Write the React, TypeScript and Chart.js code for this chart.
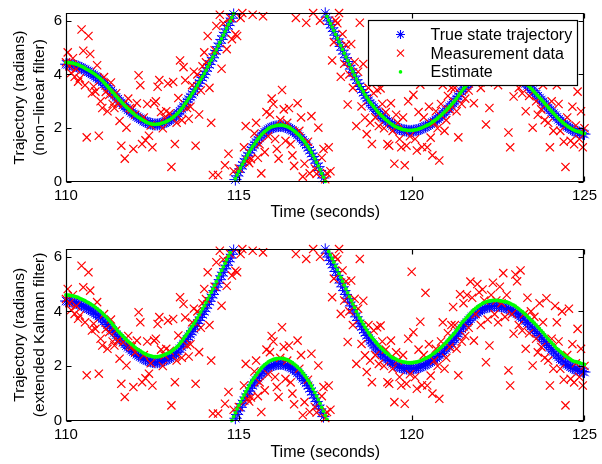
import React, { useEffect, useRef } from 'react';
import { Chart, registerables } from 'chart.js';

Chart.register(...registerables);

// ---- sampling grid & axis ticks ----
const T_START = 110;
const T_STEP = 0.05;
const X_MIN = 110;
const X_MAX = 125;
const Y_MIN = 0;
const Y_MAX = 6.2832;
const X_TICKS = [110, 115, 120, 125];
const Y_TICKS = [0, 2, 4, 6];

const SERIES_LABELS = ['True state trajectory', 'Measurement data', 'Estimate'];
const X_TITLE = 'Time (seconds)';
const Y_TITLE_TOP = ['Trajectory (radians)', '(non\u2212linear filter)'];
const Y_TITLE_BOTTOM = ['Trajectory (radians)', '(extended Kalman filter)'];

// ---- true state (radians, wrapped to [0, 2π)) every 0.05 s from 110 s ----
const trueState = [
  4.38, 4.37, 4.37, 4.36, 4.35,
  4.33, 4.31, 4.29, 4.26, 4.23,
  4.20, 4.17, 4.13, 4.10, 4.06,
  4.02, 3.98, 3.93, 3.88, 3.83,
  3.78, 3.72, 3.65, 3.59, 3.52,
  3.45, 3.38, 3.30, 3.23, 3.15,
  3.08, 3.01, 2.94, 2.88, 2.81,
  2.75, 2.69, 2.64, 2.58, 2.53,
  2.48, 2.43, 2.39, 2.35, 2.31,
  2.27, 2.24, 2.21, 2.19, 2.17,
  2.15, 2.14, 2.14, 2.14, 2.15,
  2.17, 2.19, 2.21, 2.24, 2.27,
  2.30, 2.34, 2.39, 2.44, 2.49,
  2.55, 2.63, 2.71, 2.80, 2.89,
  2.98, 3.07, 3.16, 3.26, 3.35,
  3.45, 3.56, 3.67, 3.78, 3.89,
  4.00, 4.12, 4.25, 4.37, 4.50,
  4.62, 4.76, 4.89, 5.03, 5.16,
  5.30, 5.43, 5.56, 5.69, 5.82,
  5.95, 6.09, 6.23, 0.09, 0.23,
  0.36, 0.49, 0.62, 0.74, 0.86,
  0.97, 1.08, 1.19, 1.29, 1.38,
  1.47, 1.56, 1.64, 1.72, 1.79,
  1.85, 1.90, 1.95, 1.99, 2.02,
  2.04, 2.06, 2.07, 2.08, 2.08,
  2.08, 2.07, 2.05, 2.03, 2.00,
  1.96, 1.92, 1.87, 1.82, 1.76,
  1.70, 1.63, 1.55, 1.47, 1.38,
  1.28, 1.18, 1.07, 0.95, 0.83,
  0.70, 0.57, 0.43, 0.29, 0.15,
  6.27, 6.13, 5.99, 5.86, 5.73,
  5.60, 5.46, 5.32, 5.18, 5.04,
  4.90, 4.76, 4.62, 4.48, 4.34,
  4.20, 4.07, 3.94, 3.80, 3.67,
  3.55, 3.44, 3.33, 3.22, 3.12,
  3.02, 2.93, 2.85, 2.77, 2.69,
  2.62, 2.55, 2.48, 2.42, 2.36,
  2.30, 2.25, 2.20, 2.15, 2.10,
  2.06, 2.03, 2.00, 1.97, 1.95,
  1.93, 1.92, 1.91, 1.90, 1.90,
  1.90, 1.91, 1.92, 1.93, 1.95,
  1.97, 2.00, 2.03, 2.06, 2.09,
  2.12, 2.16, 2.21, 2.25, 2.30,
  2.35, 2.41, 2.46, 2.52, 2.59,
  2.65, 2.72, 2.79, 2.86, 2.93,
  3.00, 3.09, 3.18, 3.27, 3.36,
  3.45, 3.52, 3.59, 3.66, 3.73,
  3.80, 3.86, 3.91, 3.96, 4.01,
  4.05, 4.09, 4.12, 4.15, 4.17,
  4.18, 4.19, 4.20, 4.20, 4.20,
  4.20, 4.19, 4.18, 4.17, 4.15,
  4.13, 4.10, 4.07, 4.04, 4.01,
  3.97, 3.92, 3.87, 3.82, 3.77,
  3.72, 3.66, 3.59, 3.53, 3.46,
  3.40, 3.33, 3.26, 3.19, 3.12,
  3.05, 2.98, 2.90, 2.83, 2.75,
  2.68, 2.61, 2.54, 2.47, 2.40,
  2.33, 2.27, 2.22, 2.16, 2.11,
  2.06, 2.02, 1.98, 1.94, 1.91,
  1.88, 1.86, 1.84, 1.82, 1.80,
  1.78,
];

// ---- noisy measurements (same in both panels) ----
const measurements = [
  4.45, 4.82, 4.30, 4.05, 4.60,
  3.91, 4.20, 3.73, 3.85, 5.67,
  4.88, 3.60, 1.66, 5.43, 4.76,
  3.30, 3.55, 3.36, 4.34, 1.72,
  3.00, 2.75, 3.90, 3.35, 2.63,
  3.24, 3.70, 2.90, 2.75, 3.30,
  2.93, 2.27, 1.35, 2.87, 0.87,
  2.02, 3.10, 2.75, 2.70, 1.23,
  2.50, 2.93, 3.97, 3.60, 1.41,
  2.40, 1.55, 2.90, 1.72, 2.10,
  1.29, 2.93, 3.00, 3.54, 3.79,
  2.60, 2.00, 2.39, 2.63, 3.66,
  2.55, 0.56, 3.72, 1.41, 2.20,
  3.12, 4.52, 2.30, 4.27, 3.78,
  2.75, 2.35, 2.80, 3.60, 4.10,
  1.35, 4.00, 2.51, 3.40, 4.30,
  4.82, 4.45, 5.43, 3.50, 2.20,
  0.26, 4.90, 5.80, 0.26, 6.22,
  4.21, 5.90, 0.62, 4.94, 1.05,
  6.10, 5.31, 0.40, 5.49, 5.43,
  0.50, 6.10, 6.28, 1.29, 2.08,
  0.80, 0.70, 0.85, 6.22, 1.80,
  2.20, 0.90, 1.40, 0.32, 6.16,
  1.11, 2.60, 1.70, 2.51, 3.10,
  2.90, 1.60, 1.23, 0.87, 2.30,
  3.42, 2.70, 1.53, 2.20, 2.75,
  1.40, 0.99, 0.60, 6.10, 2.93,
  1.90, 2.40, 0.20, 0.68, 5.92,
  1.50, 0.32, 2.45, 6.28, 0.50,
  0.30, 2.02, 6.00, 0.90, 1.23,
  0.10, 0.32, 1.29, 0.40, 4.52,
  5.20, 6.00, 5.90, 6.28, 3.91,
  5.50, 4.40, 5.10, 2.88, 4.00,
  5.13, 3.50, 4.46, 2.08, 4.10,
  5.92, 2.81, 4.39, 2.39, 1.78,
  3.50, 2.20, 1.41, 3.30, 2.40,
  3.42, 2.08, 3.48, 2.90, 2.00,
  2.60, 1.41, 1.35, 2.93, 1.90,
  0.68, 2.50, 2.20, 1.60, 1.29,
  2.40, 0.62, 1.35, 3.00, 1.70,
  5.45, 3.24, 1.60, 1.17, 2.60,
  3.62, 1.30, 2.40, 4.68, 1.29,
  2.80, 1.65, 0.99, 2.20, 2.63,
  2.00, 0.80, 2.90, 3.60, 1.90,
  2.30, 3.20, 2.70, 3.50, 4.16,
  3.50, 2.63, 1.66, 4.63, 2.90,
  4.30, 3.10, 4.60, 3.40, 5.09,
  4.50, 2.93, 3.90, 5.00, 4.70,
  3.50, 4.80, 4.40, 2.14, 3.70,
  2.75, 4.60, 5.05, 3.90, 4.40,
  3.60, 4.90, 4.30, 5.40, 3.80,
  4.60, 1.84, 1.29, 3.90, 3.18,
  5.35, 5.10, 3.50, 5.50, 3.30,
  3.90, 2.63, 4.50, 3.20, 4.00,
  2.02, 3.80, 3.00, 2.50, 4.30,
  2.70, 3.60, 2.30, 4.48, 2.20,
  1.29, 3.00, 1.90, 4.20, 3.60,
  2.90, 1.90, 4.00, 1.50, 0.56,
  2.40, 4.10, 1.53, 2.80, 1.40,
  2.10, 3.36, 1.60, 2.63, 1.29,
  2.00,
];

// ---- estimate, non-linear filter (top panel) ----
const estimateNonLinear = [
  4.45, 4.44, 4.44, 4.43, 4.42,
  4.40, 4.38, 4.36, 4.33, 4.30,
  4.27, 4.23, 4.19, 4.16, 4.12,
  4.08, 4.04, 3.99, 3.94, 3.89,
  3.83, 3.77, 3.70, 3.63, 3.56,
  3.49, 3.42, 3.34, 3.27, 3.19,
  3.12, 3.05, 2.98, 2.91, 2.84,
  2.78, 2.72, 2.66, 2.60, 2.55,
  2.49, 2.44, 2.40, 2.36, 2.32,
  2.28, 2.24, 2.21, 2.19, 2.17,
  2.15, 2.14, 2.14, 2.15, 2.16,
  2.18, 2.20, 2.22, 2.25, 2.28,
  2.32, 2.36, 2.41, 2.46, 2.52,
  2.58, 2.66, 2.74, 2.83, 2.92,
  3.01, 3.10, 3.19, 3.29, 3.38,
  3.48, 3.59, 3.70, 3.81, 3.92,
  4.03, 4.15, 4.28, 4.40, 4.53,
  4.65, 4.79, 4.92, 5.06, 5.19,
  5.33, 5.46, 5.59, 5.72, 5.85,
  5.98, 6.12, 6.26, 0.12, 0.26,
  0.39, 0.52, 0.65, 0.77, 0.89,
  1.00, 1.11, 1.22, 1.32, 1.41,
  1.50, 1.59, 1.67, 1.75, 1.82,
  1.88, 1.93, 1.98, 2.02, 2.05,
  2.07, 2.09, 2.10, 2.11, 2.11,
  2.11, 2.10, 2.08, 2.06, 2.03,
  1.99, 1.95, 1.90, 1.85, 1.79,
  1.73, 1.66, 1.58, 1.50, 1.41,
  1.31, 1.21, 1.10, 0.98, 0.86,
  0.73, 0.60, 0.46, 0.32, 0.18,
  0.02, 6.16, 6.02, 5.89, 5.76,
  5.63, 5.49, 5.35, 5.21, 5.07,
  4.93, 4.79, 4.65, 4.51, 4.37,
  4.23, 4.10, 3.97, 3.83, 3.70,
  3.58, 3.47, 3.36, 3.25, 3.15,
  3.05, 2.96, 2.88, 2.80, 2.72,
  2.64, 2.57, 2.50, 2.44, 2.38,
  2.32, 2.27, 2.22, 2.17, 2.12,
  2.08, 2.05, 2.02, 1.99, 1.97,
  1.95, 1.94, 1.93, 1.92, 1.92,
  1.92, 1.93, 1.94, 1.95, 1.97,
  1.99, 2.02, 2.05, 2.08, 2.11,
  2.14, 2.18, 2.23, 2.27, 2.32,
  2.37, 2.43, 2.48, 2.54, 2.61,
  2.67, 2.74, 2.81, 2.88, 2.95,
  3.02, 3.11, 3.20, 3.29, 3.38,
  3.47, 3.54, 3.61, 3.68, 3.75,
  3.82, 3.88, 3.93, 3.98, 4.03,
  4.07, 4.11, 4.14, 4.17, 4.19,
  4.20, 4.21, 4.22, 4.22, 4.22,
  4.22, 4.21, 4.20, 4.19, 4.17,
  4.15, 4.12, 4.09, 4.06, 4.03,
  3.99, 3.94, 3.89, 3.84, 3.79,
  3.74, 3.68, 3.61, 3.55, 3.48,
  3.42, 3.35, 3.28, 3.21, 3.14,
  3.07, 3.00, 2.92, 2.85, 2.77,
  2.70, 2.63, 2.56, 2.49, 2.42,
  2.35, 2.29, 2.24, 2.18, 2.13,
  2.08, 2.04, 2.00, 1.96, 1.93,
  1.90, 1.88, 1.86, 1.84, 1.82,
  1.80,
];

// ---- estimate, extended Kalman filter (bottom panel) ----
const estimateEKF = [
  4.60, 4.59, 4.59, 4.58, 4.57,
  4.55, 4.53, 4.51, 4.48, 4.45,
  4.42, 4.39, 4.35, 4.32, 4.28,
  4.24, 4.20, 4.15, 4.10, 4.05,
  4.00, 3.94, 3.87, 3.81, 3.74,
  3.67, 3.60, 3.52, 3.45, 3.37,
  3.29, 3.22, 3.15, 3.09, 3.02,
  2.96, 2.90, 2.85, 2.79, 2.74,
  2.68, 2.63, 2.59, 2.55, 2.51,
  2.47, 2.44, 2.41, 2.39, 2.37,
  2.35, 2.34, 2.34, 2.34, 2.35,
  2.37, 2.39, 2.41, 2.44, 2.47,
  2.50, 2.54, 2.59, 2.64, 2.69,
  2.75, 2.83, 2.91, 3.00, 3.09,
  3.18, 3.27, 3.36, 3.46, 3.55,
  3.65, 3.76, 3.87, 3.98, 4.09,
  4.20, 4.32, 4.45, 4.57, 4.70,
  4.82, 4.96, 5.09, 5.23, 5.36,
  5.50, 5.63, 5.76, 5.89, 6.02,
  6.15, 0.01, 0.15, 0.29, 0.43,
  0.56, 0.69, 0.82, 0.94, 1.06,
  1.17, 1.28, 1.39, 1.49, 1.58,
  1.67, 1.76, 1.84, 1.92, 1.99,
  2.05, 2.10, 2.15, 2.19, 2.22,
  2.24, 2.26, 2.27, 2.28, 2.28,
  2.28, 2.27, 2.25, 2.23, 2.20,
  2.16, 2.12, 2.07, 2.02, 1.96,
  1.90, 1.83, 1.75, 1.67, 1.58,
  1.48, 1.38, 1.27, 1.15, 1.03,
  0.90, 0.77, 0.63, 0.49, 0.35,
  0.19, 0.05, 6.19, 6.06, 5.93,
  5.80, 5.66, 5.52, 5.38, 5.24,
  5.10, 4.96, 4.82, 4.68, 4.54,
  4.40, 4.27, 4.14, 4.00, 3.87,
  3.75, 3.64, 3.53, 3.42, 3.32,
  3.22, 3.13, 3.05, 2.97, 2.89,
  2.82, 2.75, 2.68, 2.62, 2.56,
  2.50, 2.45, 2.40, 2.35, 2.30,
  2.28, 2.25, 2.22, 2.19, 2.17,
  2.15, 2.14, 2.13, 2.12, 2.12,
  2.12, 2.13, 2.14, 2.15, 2.17,
  2.19, 2.22, 2.25, 2.28, 2.31,
  2.34, 2.38, 2.43, 2.47, 2.52,
  2.57, 2.63, 2.68, 2.74, 2.81,
  2.87, 2.94, 3.01, 3.08, 3.15,
  3.22, 3.31, 3.40, 3.49, 3.58,
  3.65, 3.72, 3.79, 3.86, 3.93,
  4.00, 4.06, 4.11, 4.16, 4.21,
  4.25, 4.29, 4.32, 4.35, 4.37,
  4.38, 4.39, 4.40, 4.40, 4.40,
  4.40, 4.39, 4.38, 4.37, 4.35,
  4.35, 4.32, 4.29, 4.26, 4.23,
  4.19, 4.14, 4.09, 4.04, 3.99,
  3.94, 3.88, 3.81, 3.75, 3.68,
  3.64, 3.57, 3.50, 3.43, 3.36,
  3.29, 3.22, 3.14, 3.07, 2.99,
  2.92, 2.85, 2.78, 2.71, 2.64,
  2.59, 2.53, 2.48, 2.42, 2.37,
  2.32, 2.28, 2.24, 2.20, 2.17,
  2.16, 2.14, 2.12, 2.10, 2.08,
  2.06,
];

const BLUE = 'rgb(0,0,255)';
const RED = 'rgb(255,0,0)';
const GREEN = 'rgb(0,255,0)';
const FONT = '"Liberation Sans", Arial, Helvetica, sans-serif';

Chart.defaults.font.family = FONT;
Chart.defaults.color = '#000';

const toPoints = (vals: number[]) => vals.map((v, i) => ({ x: T_START + i * T_STEP, y: v }));

function drawMarker(ctx: CanvasRenderingContext2D, style: string, x: number, y: number, r: number, color: string) {
  ctx.save();
  ctx.strokeStyle = color;
  ctx.fillStyle = color;
  ctx.lineWidth = 1.1;
  ctx.beginPath();
  if (style === 'star') {
    const d = r * Math.SQRT1_2;
    ctx.moveTo(x - r, y); ctx.lineTo(x + r, y);
    ctx.moveTo(x, y - r); ctx.lineTo(x, y + r);
    ctx.moveTo(x - d, y - d); ctx.lineTo(x + d, y + d);
    ctx.moveTo(x - d, y + d); ctx.lineTo(x + d, y - d);
    ctx.stroke();
  } else if (style === 'crossRot') {
    const d = r * Math.SQRT1_2;
    ctx.moveTo(x - d, y - d); ctx.lineTo(x + d, y + d);
    ctx.moveTo(x - d, y + d); ctx.lineTo(x + d, y - d);
    ctx.stroke();
  } else {
    ctx.arc(x, y, r, 0, Math.PI * 2);
    ctx.fill();
  }
  ctx.restore();
}

const framePlugin = {
  id: 'matlabFrame',
  afterDatasetsDraw(chart: any) {
    const { ctx, chartArea: a, scales } = chart;
    const L = Math.round(a.left) + 0.5;
    const R = Math.round(a.right) - 0.5;
    const T = Math.round(a.top) + 0.5;
    const B = Math.round(a.bottom) - 0.5;
    const tl = 5;
    ctx.save();
    ctx.strokeStyle = '#000';
    ctx.lineWidth = 1.2;
    ctx.beginPath();
    ctx.rect(L, T, R - L, B - T);
    for (const v of X_TICKS) {
      const x = Math.round(scales.x.getPixelForValue(v)) + 0.5;
      ctx.moveTo(x, B); ctx.lineTo(x, B - tl);
      ctx.moveTo(x, T); ctx.lineTo(x, T + tl);
    }
    for (const v of Y_TICKS) {
      const y = Math.round(scales.y.getPixelForValue(v)) + 0.5;
      ctx.moveTo(L, y); ctx.lineTo(L + tl, y);
      ctx.moveTo(R, y); ctx.lineTo(R - tl, y);
    }
    ctx.stroke();
    ctx.restore();
  },
  afterDraw(chart: any, _args: any, opts: any) {
    if (!opts || !opts.showLegend) return;
    const { ctx, chartArea: a } = chart;
    const w = 209;
    const h = 65;
    const right = Math.round(a.right - 7) + 0.5;
    const top = Math.round(a.top + 7) + 0.5;
    const left = right - w;
    ctx.save();
    ctx.fillStyle = '#fff';
    ctx.fillRect(left, top, w, h);
    ctx.strokeStyle = '#000';
    ctx.lineWidth = 1.2;
    ctx.strokeRect(left, top, w, h);
    ctx.font = '16px ' + FONT;
    ctx.textBaseline = 'middle';
    ctx.textAlign = 'left';
    chart.data.datasets.forEach((ds: any, i: number) => {
      const cy = top + 14 + i * 18.7;
      const color = ds.pointStyle === 'circle' ? ds.backgroundColor : ds.borderColor;
      const r = ds.pointStyle === 'star' ? 4.5 : ds.pointStyle === 'crossRot' ? 5 : 1.8;
      drawMarker(ctx, ds.pointStyle, left + 32, cy, r, color);
      ctx.fillStyle = '#000';
      ctx.fillText(ds.label, left + 62, cy + 1);
    });
    ctx.restore();
  },
};

function buildConfig(estimate: number[], yTitle: string[], showLegend: boolean, padTop: number, xAxisH: number, xTitlePadBottom: number): any {
  return {
    type: 'scatter',
    data: {
      datasets: [
        {
          label: SERIES_LABELS[0],
          data: toPoints(trueState),
          pointStyle: 'star',
          pointRadius: 6,
          borderColor: BLUE,
          backgroundColor: BLUE,
          borderWidth: 1,
          order: 3,
          clip: false,
        },
        {
          label: SERIES_LABELS[1],
          data: toPoints(measurements),
          pointStyle: 'crossRot',
          pointRadius: 5.8,
          borderColor: RED,
          backgroundColor: RED,
          borderWidth: 1.2,
          order: 2,
          clip: false,
        },
        {
          label: SERIES_LABELS[2],
          data: toPoints(estimate),
          pointStyle: 'circle',
          pointRadius: 1.9,
          borderColor: GREEN,
          backgroundColor: GREEN,
          borderWidth: 0,
          order: 1,
          clip: false,
        },
      ],
    },
    options: {
      responsive: false,
      animation: false,
      devicePixelRatio: 1,
      events: [],
      layout: { padding: { left: 0, right: 14, top: padTop, bottom: 0 } },
      plugins: {
        legend: { display: false },
        tooltip: { enabled: false },
        matlabFrame: { showLegend },
      },
      scales: {
        x: {
          type: 'linear',
          min: X_MIN,
          max: X_MAX,
          afterBuildTicks: (s: any) => { s.ticks = X_TICKS.map((v) => ({ value: v })); },
          afterFit: (s: any) => { s.height = xAxisH; },
          grid: { display: false, drawTicks: false },
          border: { display: false },
          ticks: { padding: 5, font: { size: 15 }, color: '#000', maxRotation: 0, autoSkip: false },
          title: { display: true, text: X_TITLE, color: '#000', font: { size: 16, lineHeight: 1.2 }, padding: { top: 0, bottom: xTitlePadBottom } },
        },
        y: {
          type: 'linear',
          min: Y_MIN,
          max: Y_MAX,
          afterBuildTicks: (s: any) => { s.ticks = Y_TICKS.map((v) => ({ value: v })); },
          afterFit: (s: any) => { s.width = 66; },
          grid: { display: false, drawTicks: false },
          border: { display: false },
          ticks: { padding: 4, font: { size: 15 }, color: '#000', autoSkip: false },
          title: { display: true, text: yTitle, color: '#000', font: { size: 15.5, lineHeight: 1.29 }, padding: { top: 10, bottom: 0 } },
        },
      },
    },
    plugins: [framePlugin],
  };
}

export default function App() {
  const topRef = useRef<HTMLCanvasElement>(null);
  const bottomRef = useRef<HTMLCanvasElement>(null);

  useEffect(() => {
    const c1 = new Chart(topRef.current as HTMLCanvasElement, buildConfig(estimateNonLinear, Y_TITLE_TOP, true, 10, 50, 10));
    const c2 = new Chart(bottomRef.current as HTMLCanvasElement, buildConfig(estimateEKF, Y_TITLE_BOTTOM, false, 17, 43.3, 1.4));
    return () => {
      c1.destroy();
      c2.destroy();
    };
  }, []);

  return (
    <div style={{ position: 'absolute', left: 0, top: 0, width: 602, height: 464, background: '#fff' }}>
      <canvas ref={topRef} width={602} height={232} style={{ position: 'absolute', left: 0, top: 0, width: 602, height: 232 }} />
      <canvas ref={bottomRef} width={602} height={232} style={{ position: 'absolute', left: 0, top: 232, width: 602, height: 232 }} />
    </div>
  );
}
